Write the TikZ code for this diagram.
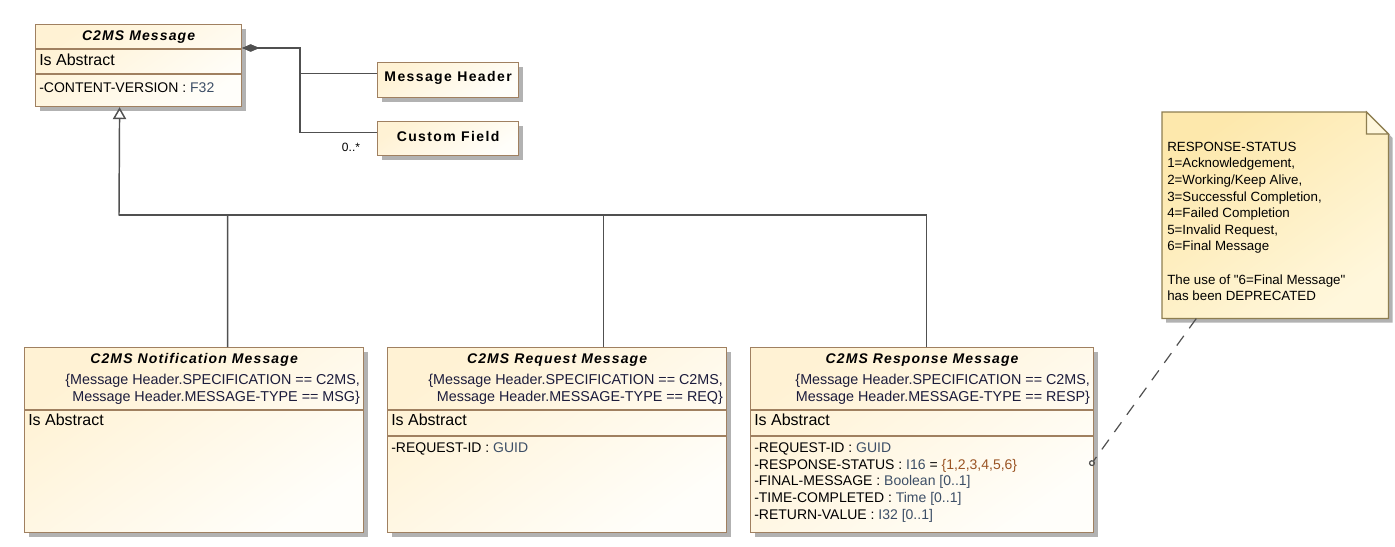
\documentclass[tikz,border=0pt]{standalone}
\usepackage{fontspec}
\setmainfont{Liberation Sans}
\newfontfamily\umltitle[LetterSpace=8]{Liberation Sans}
\newfontfamily\umlbold[LetterSpace=10]{Liberation Sans}
\newfontfamily\notefont{Liberation Sans}
\usetikzlibrary{positioning, calc, shadows, arrows.meta}
\definecolor{umlborder}{HTML}{A08060}
\definecolor{umlfill}{HTML}{FFF2D4}
\definecolor{umlfade}{HTML}{FFFEFA}
\definecolor{notefill}{HTML}{FDE8AC}
\definecolor{notefade}{HTML}{FFF7DC}
\definecolor{noteborder}{HTML}{8E7E50}
\definecolor{linegray}{HTML}{505050}
\definecolor{typecol}{HTML}{3C4E66}
\definecolor{valcol}{HTML}{9A5424}
\definecolor{constcol}{HTML}{1C1C3C}
\newcommand{\typ}[1]{\textcolor{typecol}{#1}}
\tikzstyle{classbox} = [rectangle, draw=umlborder, line width=0.9pt, top color=umlfill, bottom color=umlfade, shading angle=35, anchor=north west, inner sep=0pt, drop shadow={shadow xshift=3pt, shadow yshift=-3pt, fill=black!30, opacity=1}]
\tikzstyle{sep} = [draw=umlborder, line width=0.9pt]
\tikzstyle{classname} = [inner sep=0pt, font=\umltitle\fontsize{10.5}{12}\selectfont\bfseries\itshape]
\tikzstyle{boxname} = [inner sep=0pt, font=\umlbold\fontsize{10.5}{12}\selectfont\bfseries]
\tikzstyle{abstract} = [inner sep=0pt, anchor=west, font=\fontsize{12}{14}\selectfont]
\tikzstyle{attr} = [inner sep=0pt, anchor=west, align=left, font=\fontsize{10.5}{12.5}\selectfont]
\tikzstyle{constr} = [inner sep=0pt, anchor=east, align=right, text=constcol, font=\fontsize{10.75}{12.75}\selectfont]
\tikzstyle{mult} = [inner sep=0pt, font=\fontsize{9}{11}\selectfont]
\tikzstyle{line} = [draw=linegray, line width=1.1pt]
\tikzstyle{comp} = [line, {Diamond[length=12.75pt, width=5.5pt]}-]
\tikzstyle{inherit} = [line, -{Triangle[open, length=9pt, width=10pt]}]
\tikzstyle{anchorline} = [draw=linegray, line width=0.9pt, dash pattern=on 9pt off 7pt, -{Circle[open, length=4.5pt]}]

\begin{document}
\begin{tikzpicture}[x=0.75pt, y=-0.75pt]
			\useasboundingbox (0,0) rectangle (1395,546);
			%classes
			\node (msg) [classbox, minimum width=154.5pt, minimum height=61.5pt] at (35,24) {};
			\node (hdr) [classbox, minimum width=105.75pt, minimum height=26.25pt] at (377,62) {};
			\node (cf) [classbox, minimum width=105.75pt, minimum height=25.5pt] at (377,121) {};
			\node (notif) [classbox, minimum width=254.25pt, minimum height=138.75pt] at (24,347) {};
			\node (req) [classbox, minimum width=254.25pt, minimum height=138.75pt] at (387,347) {};
			\node (resp) [classbox, minimum width=257.25pt, minimum height=138.75pt] at (750,347) {};
			
			%C2MS Message
			\node (msgname) [classname] at ($(msg.north)+(0,13)$) {C2MS Message};
			\draw [sep] ($(msg.north west)+(0,25)$) -- ($(msg.north east)+(0,25)$);
			\node (msgabs) [abstract] at ($(msg.north west)+(4,36)$) {Is Abstract};
			\draw [sep] ($(msg.north west)+(0,50)$) -- ($(msg.north east)+(0,50)$);
			\node (msgattr) [attr] at ($(msg.north west)+(4,64)$) {-CONTENT-VERSION : \typ{F32}};
			\node (hdrname) [boxname] at ($(hdr.center)+(0,-2)$) {Message Header};
			\node (cfname) [boxname] at ($(cf.center)+(0,-2)$) {Custom Field};
			
			%C2MS Notification Message
			\node (notifname) [classname] at ($(notif.north)+(0,13)$) {C2MS Notification Message};
			\node (notifcon) [constr] at ($(notif.north east)+(-4,42.5)$) {\{Message Header.SPECIFICATION == C2MS,\\Message Header.MESSAGE-TYPE == MSG\}};
			\draw [sep] ($(notif.north west)+(0,63)$) -- ($(notif.north east)+(0,63)$);
			\node (notifabs) [abstract] at ($(notif.north west)+(4,73)$) {Is Abstract};
			
			%C2MS Request Message
			\node (reqname) [classname] at ($(req.north)+(0,13)$) {C2MS Request Message};
			\node (reqcon) [constr] at ($(req.north east)+(-4,42.5)$) {\{Message Header.SPECIFICATION == C2MS,\\Message Header.MESSAGE-TYPE == REQ\}};
			\draw [sep] ($(req.north west)+(0,63)$) -- ($(req.north east)+(0,63)$);
			\node (reqabs) [abstract] at ($(req.north west)+(4,73)$) {Is Abstract};
			\draw [sep] ($(req.north west)+(0,89)$) -- ($(req.north east)+(0,89)$);
			\node (reqattr) [attr] at ($(req.north west)+(4,102)$) {-REQUEST-ID : \typ{GUID}};
			
			%C2MS Response Message
			\node (respname) [classname] at ($(resp.north)+(0,13)$) {C2MS Response Message};
			\node (respcon) [constr] at ($(resp.north east)+(-4,42.5)$) {\{Message Header.SPECIFICATION == C2MS,\\Message Header.MESSAGE-TYPE == RESP\}};
			\draw [sep] ($(resp.north west)+(0,63)$) -- ($(resp.north east)+(0,63)$);
			\node (respabs) [abstract] at ($(resp.north west)+(4,73)$) {Is Abstract};
			\draw [sep] ($(resp.north west)+(0,89)$) -- ($(resp.north east)+(0,89)$);
			\node (respattr) [attr] at ($(resp.north west)+(4,135.5)$) {-REQUEST-ID : \typ{GUID}\\-RESPONSE-STATUS : \typ{I16} = \textcolor{valcol}{\{1,2,3,4,5,6\}}\\-FINAL-MESSAGE : \typ{Boolean [0..1]}\\-TIME-COMPLETED : \typ{Time [0..1]}\\-RETURN-VALUE : \typ{I32 [0..1]}};
			
			%note
			\node (note) [anchor=north west, inner sep=0pt, minimum width=169.5pt, minimum height=154.5pt] at (1162,112) {};
			\draw [draw=noteborder, line width=0.9pt, top color=notefill, bottom color=notefade, shading angle=35, drop shadow={shadow xshift=3pt, shadow yshift=-3pt, fill=black!30, opacity=1}] (note.north west) -- ([xshift=-16.5pt]note.north east) -- ([yshift=-16.5pt]note.north east) -- (note.south east) -- (note.south west) -- cycle;
			\draw [draw=noteborder, line width=0.9pt, fill=notefade] ([xshift=-16.5pt]note.north east) |- ([yshift=-16.5pt]note.north east) -- cycle;
			\node (notetxt) [attr, font=\notefont\fontsize{10}{12.45}\selectfont] at ($(note.north west)+(5,109.5)$) {RESPONSE-STATUS\\1=Acknowledgement,\\2=Working/Keep Alive,\\3=Successful Completion,\\4=Failed Completion\\5=Invalid Request,\\6=Final Message\\[12.45pt]The use of "6=Final Message"\\has been DEPRECATED};
			
			%connectors
			\coordinate (msgcomp) at ($(msg.north east)+(0,24)$);
			\coordinate (join) at (119,215);
			\draw [comp] (msgcomp) -- ++(58,0) |- ([yshift=4.9pt]hdr.west);
			\draw [comp] (msgcomp) -- ++(58,0) |- ([yshift=4.5pt]cf.west);
			\node (cfmult) [mult] at ($(cf.west)+(-26,9)$) {0..*};
			\draw [inherit] ([xshift=25.1pt]notif.north) |- (join) -- ([xshift=-14.25pt]msg.south);
			\draw [line] ([xshift=34.9pt]req.north) |- (join);
			\draw [line] ([xshift=3.4pt]resp.north) |- (join);
			\draw [anchorline] ([xshift=-59.25pt]note.south) -- ([xshift=-3pt, yshift=-19.1pt]resp.east);
		\end{tikzpicture}
\end{document}
